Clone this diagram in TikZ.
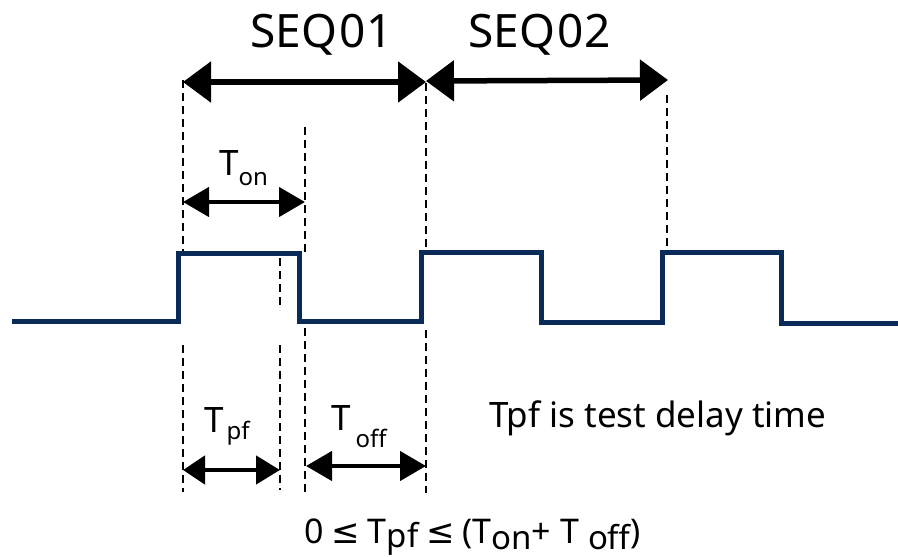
\documentclass[tikz,border=0pt]{standalone}
\usepackage{fontspec}
\setmainfont{Noto Sans}
\newfontfamily\symfont{DejaVu Sans}
\usetikzlibrary{arrows.meta}
\definecolor{wavec}{RGB}{10,42,88}
\newcommand\lowtxt[3]{\raisebox{-#1}{\fontsize{#2}{#2}\selectfont #3}}
\newcommand\leqsym{{\symfont\kern-1pt ≤\kern-1pt}}
\tikzset{
  wave/.style={draw=wavec, line width=5pt, line join=miter},
  guide/.style={draw=black, line width=2.8pt, dash pattern=on 8pt off 5pt},
  bigarrow/.style={line width=5.5pt, {Triangle[length=28pt,width=40pt]}-{Triangle[length=28pt,width=40pt]}},
  smallarrow/.style={line width=4.5pt, {Triangle[length=26pt,width=29pt]}-{Triangle[length=26pt,width=29pt]}},
  lbl/.style={inner sep=0pt, anchor=base west},
}
\begin{document}
\begin{tikzpicture}[x=1pt,y=-1pt]
\useasboundingbox (0,0) rectangle (898,557);
% waveform points
\coordinate (w0) at (12,321);
\coordinate (w1) at (178,321);
\coordinate (w2) at (178,253);
\coordinate (w3) at (299,253);
\coordinate (w4) at (299,321);
\coordinate (w5) at (421,321);
\coordinate (w6) at (421,252);
\coordinate (w7) at (541,252);
\coordinate (w8) at (541,322);
\coordinate (w9) at (662,322);
\coordinate (w10) at (662,252);
\coordinate (w11) at (781,252);
\coordinate (w12) at (781,323);
\coordinate (w13) at (898,323);
\draw[wave] (w0) -- (w1) -- (w2) -- (w3) -- (w4) -- (w5) -- (w6) -- (w7) -- (w8) -- (w9) -- (w10) -- (w11) -- (w12) -- (w13);
% guide lines
\coordinate (a1) at (183,80);  \coordinate (a2) at (183,251);
\coordinate (a3) at (183,345); \coordinate (a4) at (183,492);
\coordinate (b1) at (305,127); \coordinate (b2) at (305,252);
\coordinate (b3) at (305,328); \coordinate (b4) at (305,493);
\coordinate (c1) at (280,258); \coordinate (c2) at (280,310);
\coordinate (c3) at (280,345); \coordinate (c4) at (280,490);
\coordinate (d1) at (426,83);  \coordinate (d2) at (426,248);
\coordinate (d3) at (426,330); \coordinate (d4) at (426,493);
\coordinate (e1) at (667,95);  \coordinate (e2) at (667,250);
\draw[guide] (a1) -- (a2);
\draw[guide] (a3) -- (a4);
\draw[guide] (b1) -- (b2);
\draw[guide] (b3) -- (b4);
\draw[guide] (c1) -- (c2);
\draw[guide] (c3) -- (c4);
\draw[guide] (d1) -- (d2);
\draw[guide] (d3) -- (d4);
\draw[guide] (e1) -- (e2);
% dimension arrows
\coordinate (s1l) at (183,82);  \coordinate (s1r) at (426,82);
\coordinate (s2l) at (426,81);  \coordinate (s2r) at (668,80);
\coordinate (tonl) at (183,202); \coordinate (tonr) at (305,202);
\coordinate (tpfl) at (183,470); \coordinate (tpfr) at (280,470);
\coordinate (toffl) at (306,466); \coordinate (toffr) at (426,466);
\draw[bigarrow] (s1l) -- (s1r);
\draw[bigarrow] (s2l) -- (s2r);
\draw[smallarrow] (tonl) -- (tonr);
\draw[smallarrow, {Triangle[length=22pt,width=28pt]}-{Triangle[length=24pt,width=28pt]}] (tpfl) -- (tpfr);
\draw[smallarrow] (toffl) -- (toffr);
% labels
\node[lbl] (seq1) at (250,47) {\fontsize{46}{46}\selectfont SEQ\kern3pt01};
\node[lbl] (seq2) at (468,47) {\fontsize{46}{46}\selectfont SEQ\kern3pt02};
\node[lbl] (ton) at (219,175) {\fontsize{35}{35}\selectfont T\lowtxt{10pt}{24pt}{on}};
\node[lbl] (tpf) at (204,432) {\fontsize{35}{35}\selectfont T\kern3pt\lowtxt{7pt}{24pt}{pf}};
\node[lbl] (toff) at (331,430) {\fontsize{35}{35}\selectfont T\kern5pt\lowtxt{17pt}{24pt}{off}};
\node[lbl] (note) at (489,427) {\fontsize{35}{35}\selectfont Tpf is test delay time};
\node[lbl] (formula) at (304,543) {\fontsize{34}{34}\selectfont 0 \leqsym{} T\lowtxt{4pt}{33pt}{pf} \leqsym{} (T\lowtxt{6pt}{33pt}{on}+ T \lowtxt{6pt}{33pt}{off})};
\end{tikzpicture}
\end{document}
